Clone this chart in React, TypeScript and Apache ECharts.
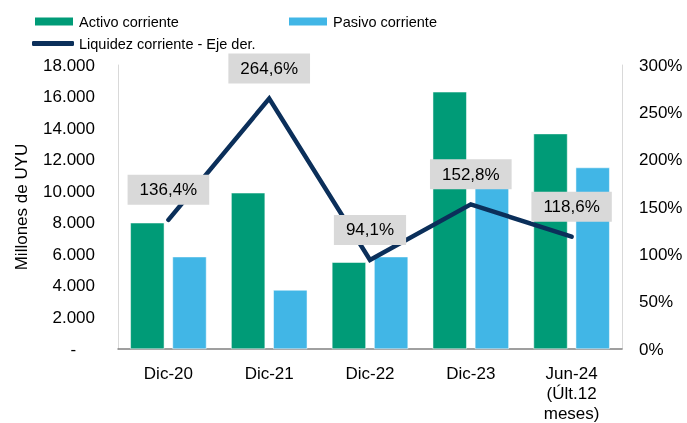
import React, { useEffect, useRef } from "react";
import * as echarts from "echarts";

const categories = ["Dic-20", "Dic-21", "Dic-22", "Dic-23", "Jun-24\n(Últ.12\nmeses)"];
const activoCorriente = [8000, 9900, 5500, 16300, 13650];
const pasivoCorriente = [5850, 3740, 5850, 10670, 11500];
const liquidezCorriente = [136.4, 264.6, 94.1, 152.8, 118.6];

const FONT = "Liberation Sans, Arial, sans-serif";

export default function App() {
  const ref = useRef<HTMLDivElement>(null);
  useEffect(() => {
    if (!ref.current) return;
    const chart = echarts.init(ref.current, null, { renderer: "svg" });
    const fmtThousands = (v: number) =>
      v === 0 ? "-    " : String(v).replace(/\B(?=(\d{3})+(?!\d))/g, ".");
    const legendText = { fontSize: 14.5, color: "#000", fontFamily: FONT };
    chart.setOption({
      animation: false,
      textStyle: { fontFamily: FONT },
      legend: [
        {
          data: ["Activo corriente"],
          left: 33,
          top: 14,
          padding: 0,
          itemWidth: 40,
          itemHeight: 10,
          icon: "rect",
          textStyle: legendText,
        },
        {
          data: ["Pasivo corriente"],
          left: 287,
          top: 14,
          padding: 0,
          itemWidth: 40,
          itemHeight: 10,
          icon: "rect",
          textStyle: legendText,
        },
        {
          data: ["Liquidez corriente - Eje der."],
          left: 32,
          top: 36,
          padding: 0,
          itemWidth: 42,
          itemHeight: 5,
          icon: "roundRect",
          textStyle: legendText,
        },
      ],
      grid: { left: 118, right: 65, top: 65, bottom: 72 },
      xAxis: {
        type: "category",
        data: categories,
        axisTick: { show: false },
        axisLine: { lineStyle: { color: "#808080", width: 1.5 } },
        axisLabel: {
          color: "#000",
          fontSize: 17,
          margin: 14,
          lineHeight: 20,
          fontFamily: FONT,
        },
      },
      yAxis: [
        {
          type: "value",
          min: 0,
          max: 18000,
          interval: 2000,
          name: "Millones de UYU",
          nameLocation: "middle",
          nameGap: 88,
          nameTextStyle: { fontSize: 17, color: "#000", fontFamily: FONT },
          splitLine: { show: false },
          axisTick: { show: false },
          axisLine: { show: true, lineStyle: { color: "#d9d9d9" } },
          axisLabel: {
            color: "#000",
            fontSize: 17,
            margin: 23,
            fontFamily: FONT,
            formatter: (v: number) => fmtThousands(v),
          },
        },
        {
          type: "value",
          min: 0,
          max: 300,
          interval: 50,
          splitLine: { show: false },
          axisTick: { show: false },
          axisLine: { show: true, lineStyle: { color: "#d9d9d9" } },
          axisLabel: {
            color: "#000",
            fontSize: 17,
            margin: 17,
            fontFamily: FONT,
            formatter: (v: number) => `${v}%`,
          },
        },
      ],
      series: [
        {
          name: "Activo corriente",
          type: "bar",
          data: activoCorriente,
          barWidth: 34,
          barGap: "24%",
          itemStyle: { color: "#009B77", borderColor: "#ffffff", borderWidth: 0.5 },
        },
        {
          name: "Pasivo corriente",
          type: "bar",
          data: pasivoCorriente,
          barWidth: 34,
          barGap: "24%",
          itemStyle: { color: "#41B6E6", borderColor: "#ffffff", borderWidth: 0.5 },
        },
        {
          name: "Liquidez corriente - Eje der.",
          type: "line",
          yAxisIndex: 1,
          data: liquidezCorriente,
          symbol: "circle",
          symbolSize: 2,
          z: 5,
          lineStyle: { color: "#0B2F5A", width: 4.5, cap: "round", join: "miter" },
          itemStyle: { color: "#0B2F5A" },
          label: {
            show: true,
            position: "top",
            distance: 14,
            color: "#000",
            fontSize: 17,
            lineHeight: 18,
            fontFamily: FONT,
            backgroundColor: "#D9D9D9",
            padding: [6, 12],
            formatter: (p: any) => `${p.value.toFixed(1).replace(".", ",")}%`,
          },
        },
      ],
    });
    return () => chart.dispose();
  }, []);
  return (
    <div
      ref={ref}
      style={{ position: "fixed", left: 0, top: 0, width: 687, height: 423 }}
    />
  );
}
